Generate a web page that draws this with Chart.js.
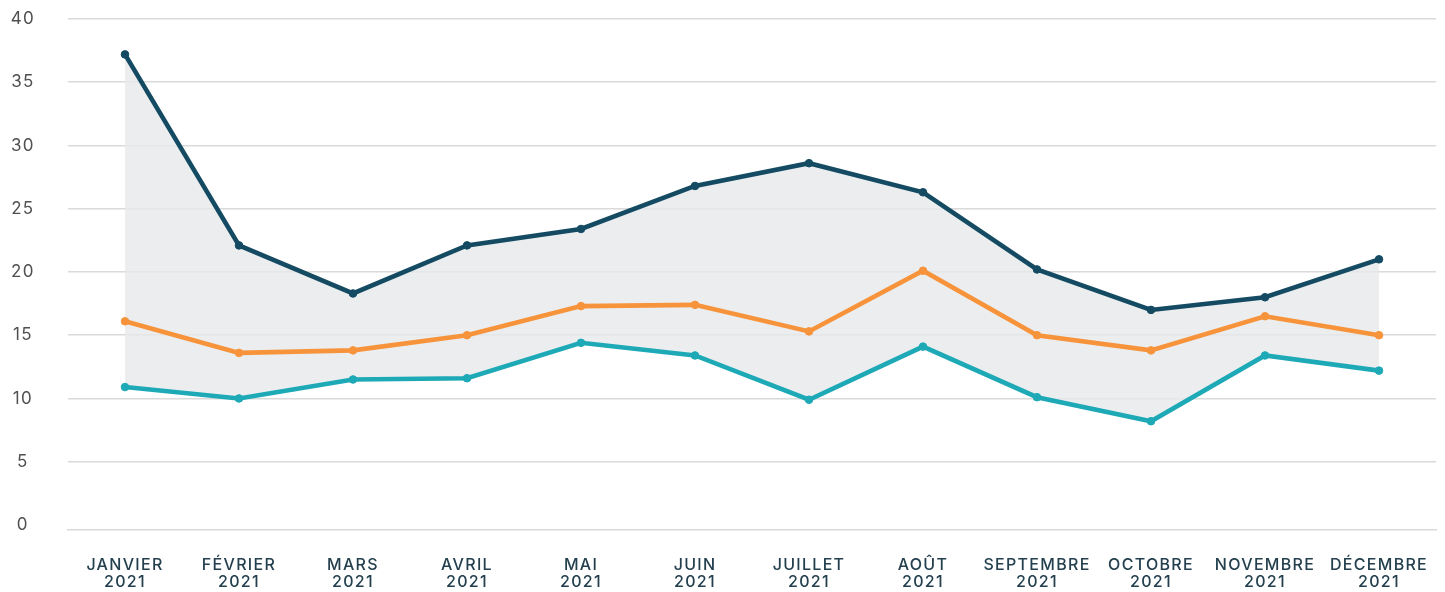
<!DOCTYPE html>
<html>
<head>
<meta charset="utf-8">
<script src="https://cdn.jsdelivr.net/npm/chart.js@4"></script>
<style>
	html, body { margin: 0; padding: 0; background: #fff; }
	#wrap { width: 1445px; height: 592px; }
</style>
</head>
<body>
<div id="wrap"><canvas id="chart"></canvas></div>
<script>
const months = ['JANVIER', 'FÉVRIER', 'MARS', 'AVRIL', 'MAI', 'JUIN', 'JUILLET', 'AOÛT', 'SEPTEMBRE', 'OCTOBRE', 'NOVEMBRE', 'DÉCEMBRE'];
const year = '2021';
const highValues = [37.2, 22.1, 18.3, 22.1, 23.4, 26.8, 28.6, 26.3, 20.2, 17.0, 18.0, 21.0];
const midValues = [16.1, 13.6, 13.8, 15.0, 17.3, 17.4, 15.3, 20.1, 15.0, 13.8, 16.5, 15.0];
const lowValues = [10.9, 10.0, 11.5, 11.6, 14.4, 13.4, 9.9, 14.1, 10.1, 8.2, 13.4, 12.2];
const yTicks = [0, 5, 10, 15, 20, 25, 30, 35, 40];

const gridColor = '#dadada';
const labelFont = 'Inter';

// wide letter spacing like the original labels; the context is reset on resize,
// so set it again before every layout and draw
const spacing = {
	id: 'spacing',
	beforeUpdate(chart) {
		chart.ctx.letterSpacing = '1.3px';
	},
	beforeDraw(chart) {
		chart.ctx.letterSpacing = '1.3px';
	},
};

function line(data, color, fill) {
	return {
		data,
		borderColor: color,
		backgroundColor: 'rgba(230, 232, 235, 0.8)',
		pointBackgroundColor: color,
		pointBorderColor: color,
		pointRadius: 3.8,
		pointBorderWidth: 1,
		borderWidth: 4.6,
		tension: 0,
		fill,
	};
}

new Chart(document.getElementById('chart'), {
	type: 'line',
	data: {
		labels: months.map(m => [m, year]),
		datasets: [
			line(highValues, '#144b63', 2),
			line(midValues, '#f7943b', false),
			line(lowValues, '#1ea9b6', false),
		],
	},
	plugins: [spacing],
	options: {
		responsive: true,
		maintainAspectRatio: false,
		animation: false,
		layout: {padding: {top: 19, left: 0, right: 9, bottom: 0}},
		plugins: {
			legend: {display: false},
			tooltip: {enabled: false},
			filler: {drawTime: 'beforeDatasetsDraw'},
		},
		scales: {
			x: {
				offset: true,
				grid: {display: false, drawTicks: false},
				border: {display: true, color: gridColor, width: 1.5},
				ticks: {
					color: '#24404f',
					font: {family: labelFont, size: 16, weight: 500, lineHeight: 1.1},
					padding: 26,
					maxRotation: 0,
					autoSkip: false,
				},
				afterFit(axis) {
					axis.height = 62;
					axis.paddingLeft = 0;
					axis.paddingRight = 0;
				},
			},
			y: {
				min: -0.4,
				max: 40,
				afterBuildTicks: axis => { axis.ticks = yTicks.map(v => ({value: v})); },
				afterFit(axis) {
					axis.width = 68;
					axis.paddingTop = 0;
					axis.paddingBottom = 0;
				},
				grid: {
					drawTicks: false,
					lineWidth: 1.5,
					color: c => (c.tick && c.tick.value === 0 ? 'rgba(0,0,0,0)' : gridColor),
				},
				border: {display: false},
				ticks: {
					color: '#505050',
					font: {family: labelFont, size: 17},
					padding: 33,
					crossAlign: 'center',
				},
			},
		},
	},
});
</script>
</body>
</html>
